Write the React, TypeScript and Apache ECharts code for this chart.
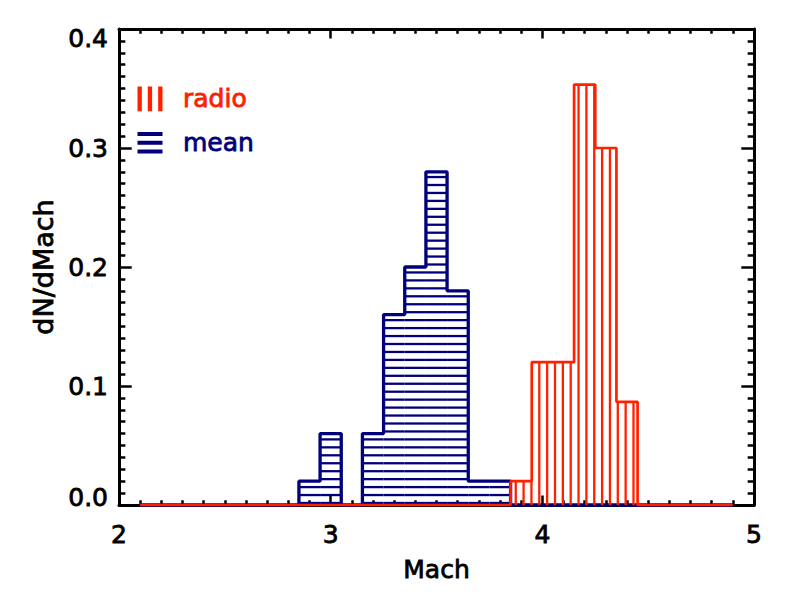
import React, { useEffect, useRef } from 'react';
import * as echarts from 'echarts';

// Bin centres (Mach) of the two histograms
const machBins = [
  2.1, 2.2, 2.3, 2.4, 2.5, 2.6, 2.7, 2.8, 2.9, 3.0,
  3.1, 3.2, 3.3, 3.4, 3.5, 3.6, 3.7, 3.8, 3.9, 4.0,
  4.1, 4.2, 4.3, 4.4, 4.5, 4.6, 4.7, 4.8, 4.9,
];
// dN/dMach for the "radio" Mach numbers
const radioValues = [
  0, 0, 0, 0, 0, 0, 0, 0, 0, 0,
  0, 0, 0, 0, 0, 0, 0, 0, 0.02, 0.12,
  0.12, 0.3533, 0.30, 0.0867, 0, 0, 0, 0, 0,
];
// dN/dMach for the "mean" Mach numbers
const meanValues = [
  0, 0, 0, 0, 0, 0, 0, 0, 0.02, 0.06,
  0, 0.06, 0.16, 0.20, 0.28, 0.18, 0.02, 0.02, 0, 0,
  0, 0, 0, 0, 0, 0, 0, 0, 0,
];
const binWidth = 0.1;
const xMin = 2;
const xMax = 5;
const xInterval = 1;
const yMin = 0;
const yMax = 0.4;
const yInterval = 0.1;
const seriesNames = ['radio', 'mean'];
const xTitle = 'Mach';
const yTitle = 'dN/dMach';

const RED = '#ff2000';
const BLUE = '#00007a';
const FONT = 'DejaVu Sans';
const FS = 25;

const iconVertical = 'path://M0,0h3.5v20h-3.5z M8.3,0h3.5v20h-3.5z M16.7,0h3.5v20h-3.5z';
const iconHorizontal = 'path://M0,0h22v3.5h-22z M0,7.7h22v3.5h-22z M0,15.5h22v3.5h-22z';

function hatchRenderer(orient: 'h' | 'v', color: string, spacing: number, phase: number) {
  return (params: any, api: any) => {
    const xc = api.value(0);
    const v = api.value(1);
    const children: any[] = [];
    if (v > 0) {
      const pb = api.coord([xc - binWidth / 2, 0]);
      const pt = api.coord([xc + binWidth / 2, v]);
      const origin = api.coord([xMin, 0]);
      const x0 = pb[0];
      const x1 = pt[0];
      const yb = pb[1];
      const yt = pt[1];
      if (orient === 'h') {
        for (let y = origin[1] - phase; y > yt + 0.5; y -= spacing) {
          children.push({
            type: 'line',
            shape: { x1: x0, y1: y, x2: x1, y2: y },
            style: { stroke: color, lineWidth: 2.3 },
          });
        }
      } else {
        const k = Math.ceil((x0 - origin[0] - phase) / spacing);
        for (let x = origin[0] + phase + k * spacing; x < x1; x += spacing) {
          children.push({
            type: 'line',
            shape: { x1: x, y1: yb, x2: x, y2: yt },
            style: { stroke: color, lineWidth: 2.3 },
          });
        }
      }
    }
    return { type: 'group', children };
  };
}

const txt = {
  fontFamily: FONT,
  fontSize: FS,
  color: '#000',
  textBorderColor: '#000',
  textBorderWidth: 0.8,
};

function buildOption(): any {
  const radioData = machBins.map((m, i) => [m, radioValues[i]]);
  const meanData = machBins.map((m, i) => [m, meanValues[i]]);
  const axisLine = { show: true, onZero: false, lineStyle: { color: '#000', width: 3 } };
  const tickStyle = { color: '#000', width: 2.5 };
  return {
    animation: false,
    backgroundColor: '#fff',
    grid: { left: 119, right: 39, top: 29, bottom: 90, containLabel: false, outerBoundsMode: 'none' },
    legend: {
      left: 137.5,
      top: 86,
      orient: 'vertical',
      padding: 0,
      itemWidth: 25,
      itemHeight: 25,
      itemGap: 18,
      selectedMode: false,
      itemStyle: { borderWidth: 0 },
      textStyle: { fontFamily: FONT, fontSize: FS, padding: [3, 0, 0, 15.5] },
      data: [
        { name: seriesNames[0], icon: iconVertical, textStyle: { color: RED, textBorderColor: RED, textBorderWidth: 0.8 } },
        { name: seriesNames[1], icon: iconHorizontal, textStyle: { color: BLUE, textBorderColor: BLUE, textBorderWidth: 0.8 } },
      ],
    },
    xAxis: [
      {
        type: 'value',
        position: 'bottom',
        min: xMin,
        max: xMax,
        interval: xInterval,
        name: xTitle,
        nameLocation: 'middle',
        nameGap: 52,
        nameTextStyle: { ...txt },
        axisLine,
        axisTick: { show: true, inside: true, length: 9.5, lineStyle: tickStyle },
        minorTick: { show: true, splitNumber: 10, length: 4.75, lineStyle: tickStyle },
        splitLine: { show: false },
        axisLabel: { ...txt, margin: 17, formatter: (v: number) => String(v) },
      },
      {
        type: 'value',
        position: 'top',
        min: xMin,
        max: xMax,
        interval: xInterval,
        axisLine,
        axisTick: { show: true, inside: true, length: 9.5, lineStyle: tickStyle },
        minorTick: { show: true, splitNumber: 10, length: 4.75, lineStyle: tickStyle },
        splitLine: { show: false },
        axisLabel: { show: false },
      },
    ],
    yAxis: [
      {
        type: 'value',
        position: 'left',
        min: yMin,
        max: yMax,
        interval: yInterval,
        name: yTitle,
        nameLocation: 'middle',
        nameGap: 59,
        nameRotate: 90,
        nameTextStyle: { ...txt, fontSize: 27 },
        axisLine,
        axisTick: { show: true, inside: true, length: 12.7, lineStyle: tickStyle },
        minorTick: { show: true, splitNumber: 10, length: 6.35, lineStyle: tickStyle },
        splitLine: { show: false },
        axisLabel: {
          ...txt,
          margin: 11,
          formatter: (v: number) => {
            const s = v.toFixed(1);
            if (Math.abs(v - yMin) < 1e-9) return '{lo|' + s + '}';
            if (Math.abs(v - yMax) < 1e-9) return '{hi|' + s + '}';
            return s;
          },
          rich: {
            lo: { ...txt, padding: [0, 0, 15, 0] },
            hi: { ...txt, padding: [19, 0, 0, 0] },
          },
        },
      },
      {
        type: 'value',
        position: 'right',
        min: yMin,
        max: yMax,
        interval: yInterval,
        axisLine,
        axisTick: { show: true, inside: true, length: 12.7, lineStyle: tickStyle },
        minorTick: { show: true, splitNumber: 10, length: 6.35, lineStyle: tickStyle },
        splitLine: { show: false },
        axisLabel: { show: false },
      },
    ],
    series: [
      {
        type: 'custom',
        name: seriesNames[1],
        xAxisIndex: 0,
        yAxisIndex: 0,
        z: 2,
        itemStyle: { color: BLUE },
        renderItem: hatchRenderer('h', BLUE, 7.95, 2),
        data: meanData,
      },
      {
        type: 'line',
        name: seriesNames[1],
        xAxisIndex: 0,
        yAxisIndex: 0,
        z: 3,
        step: 'middle',
        symbol: 'none',
        clip: false,
        itemStyle: { color: BLUE },
        lineStyle: { color: BLUE, width: 3.3 },
        data: meanData,
      },
      {
        type: 'custom',
        name: seriesNames[0],
        xAxisIndex: 0,
        yAxisIndex: 0,
        z: 4,
        itemStyle: { color: RED },
        renderItem: hatchRenderer('v', RED, 7.85, 4.25),
        data: radioData,
      },
      {
        type: 'line',
        name: seriesNames[0],
        xAxisIndex: 0,
        yAxisIndex: 0,
        z: 5,
        step: 'middle',
        symbol: 'none',
        clip: false,
        itemStyle: { color: RED },
        lineStyle: { color: RED, width: 2.7 },
        data: radioData,
      },
    ],
  };
}

export default function App() {
  const ref = useRef<HTMLDivElement>(null);
  useEffect(() => {
    if (!ref.current) return;
    const chart = echarts.init(ref.current, null, { renderer: 'svg' });
    chart.setOption(buildOption());
    return () => {
      chart.dispose();
    };
  }, []);
  return (
    <div
      ref={ref}
      style={{ position: 'fixed', left: 0, top: 0, width: 793, height: 595, background: '#fff' }}
    />
  );
}
